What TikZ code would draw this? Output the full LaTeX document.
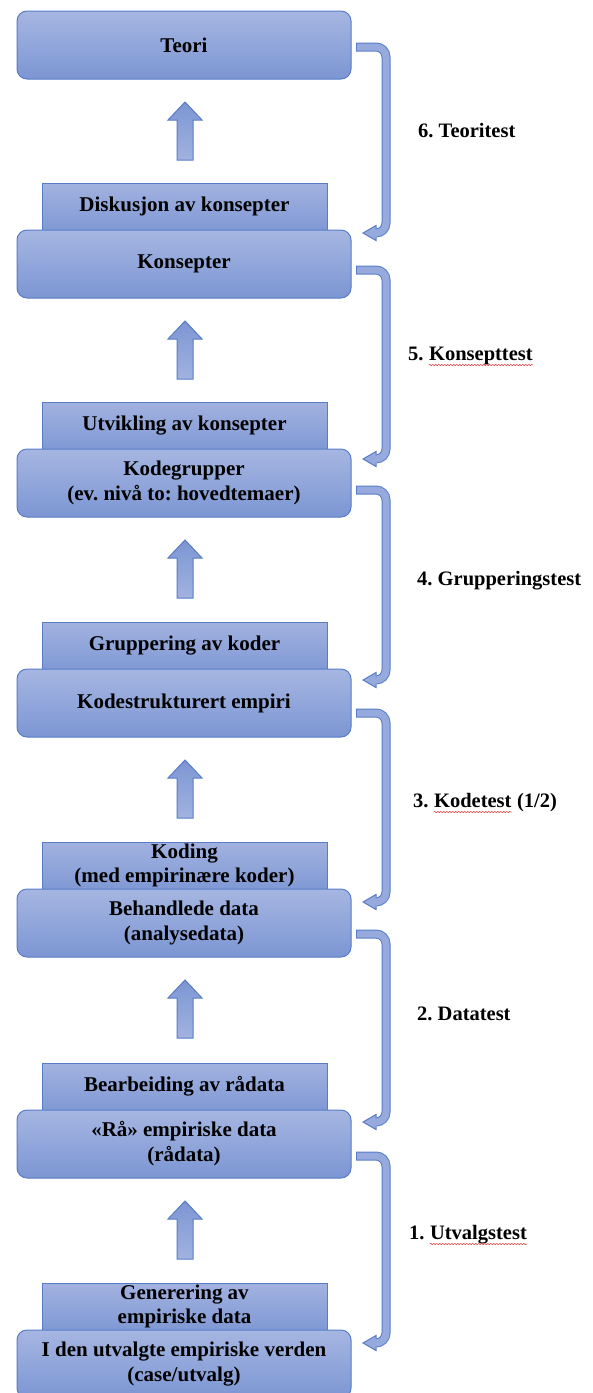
\documentclass[tikz,border=0pt]{standalone}
\usepackage{fontspec}
\setmainfont{Liberation Serif}
\frenchspacing
\usetikzlibrary{decorations.pathmorphing}
\definecolor{boxtop}{RGB}{166,182,226}
\definecolor{boxbot}{RGB}{124,150,211}
\definecolor{subtop}{RGB}{162,178,224}
\definecolor{subbot}{RGB}{128,153,212}
\definecolor{bord}{RGB}{88,124,200}
\definecolor{bandcol}{RGB}{150,170,222}
\definecolor{spellred}{RGB}{225,60,60}
\begin{document}
\begin{tikzpicture}[x=1pt,y=-1pt,
  mainbox/.style={draw=bord, line width=1pt, rounded corners=10pt, top color=boxtop, bottom color=boxbot,
    minimum width=334pt, minimum height=68pt, inner sep=0pt, align=center,
    font=\bfseries\fontsize{21}{25}\selectfont},
  subbox/.style={draw=bord, line width=1pt, top color=subtop, bottom color=subbot,
    minimum width=285pt, minimum height=47pt, inner sep=0pt, align=center,
    font=\bfseries\fontsize{21}{24}\selectfont},
  lbl/.style={inner sep=0pt, anchor=base west, font=\bfseries\fontsize{20.5}{24}\selectfont},
  squig/.style={draw=spellred, line width=0.5pt, decorate, decoration={snake, amplitude=0.7pt, segment length=3pt}},
  uparrow/.style={draw=bord, line width=1pt, top color=boxbot, bottom color=subtop},
  bandout/.style={draw=bord, line width=9pt, rounded corners=10pt},
  bandin/.style={draw=bandcol, line width=7pt, rounded corners=10pt},
  ahead/.style={fill=bandcol, draw=bord, line width=1pt, line join=miter}
]
\useasboundingbox (0,0) rectangle (593,1393);
\clip (0,0) rectangle (593,1393);

% sub boxes (behind main boxes)
\node[subbox] (sub1) at (184.5,206.5) {Diskusjon av konsepter};
\node[subbox] (sub2) at (184.5,425.5) {Utvikling av konsepter};
\node[subbox] (sub3) at (184.5,645.5) {Gruppering av koder};
\node[subbox] (sub4) at (184.5,865.5) {Koding\\(med empirinære koder)};
\node[subbox] (sub5) at (184.5,1086.5) {Bearbeiding av rådata};
\node[subbox] (sub6) at (184.5,1306.5) {Generering av\\empiriske data};

% main boxes
\node[mainbox] (m0) at (184,45) {Teori};
\node[mainbox] (m1) at (184,264) {Konsepter};
\node[mainbox] (m2) at (184,483) {Kodegrupper\\(ev. nivå to: hovedtemaer)};
\node[mainbox] (m3) at (184,703) {Kodestrukturert empiri};
\node[mainbox] (m4) at (184,923) {Behandlede data\\(analysedata)};
\node[mainbox] (m5) at (184,1144) {«Rå» empiriske data\\(rådata)};
\node[mainbox] (m6) at (184,1364) {I den utvalgte empiriske verden\\(case/utvalg)};

% block arrows upward
\foreach \t in {102,321,540,760,980,1201}{
  \path[uparrow] (185,\t) -- (202,\t+18) -- (193,\t+18) -- (193,\t+58)
     -- (177,\t+58) -- (177,\t+18) -- (168,\t+18) -- cycle;
}

% curved test connectors
\foreach \ys/\ye/\n in {47/233/1,270/459/2,490/680/3,713/902/4,934/1122/5,1156/1343/6}{
  \coordinate (s\n) at (356,\ys);
  \coordinate (c\n) at (386,\ys);
  \coordinate (d\n) at (386,\ye);
  \coordinate (e\n) at (376,\ye);
  \coordinate (t\n) at (363,\ye);
  \draw[bandout] (s\n) -- (c\n) -- (d\n) -- (e\n);
  \filldraw[ahead] ([yshift=-7.5pt]e\n) -- (t\n) -- ([yshift=7.5pt]e\n) -- cycle;
  \draw[bandin] ([xshift=1pt]s\n) -- (c\n) -- (d\n) -- ([xshift=-1.5pt]e\n);
}

% labels
\node[lbl] (l6) at (418,137) {6. Teoritest};
\node[lbl] (l5n) at (408,360) {5.};
\node[lbl] (l5w) at ([xshift=5.1pt]l5n.base east) {Konsepttest};
\node[lbl] (l4) at (417,585) {4. Grupperingstest};
\node[lbl] (l3n) at (413,807) {3.};
\node[lbl] (l3w) at ([xshift=5.1pt]l3n.base east) {Kodetest};
\node[lbl] (l3r) at ([xshift=5.1pt]l3w.base east) {(1/2)};
\node[lbl] (l2) at (417,1020) {2. Datatest};
\node[lbl] (l1n) at (409,1239) {1.};
\node[lbl] (l1w) at ([xshift=5.1pt]l1n.base east) {Utvalgstest};

\draw[squig] ([yshift=-5pt]l5w.base west) -- ([yshift=-5pt]l5w.base east);
\draw[squig] ([yshift=-5pt]l3w.base west) -- ([yshift=-5pt]l3w.base east);
\draw[squig] ([yshift=-5pt]l1w.base west) -- ([yshift=-5pt]l1w.base east);
\end{tikzpicture}
\end{document}
